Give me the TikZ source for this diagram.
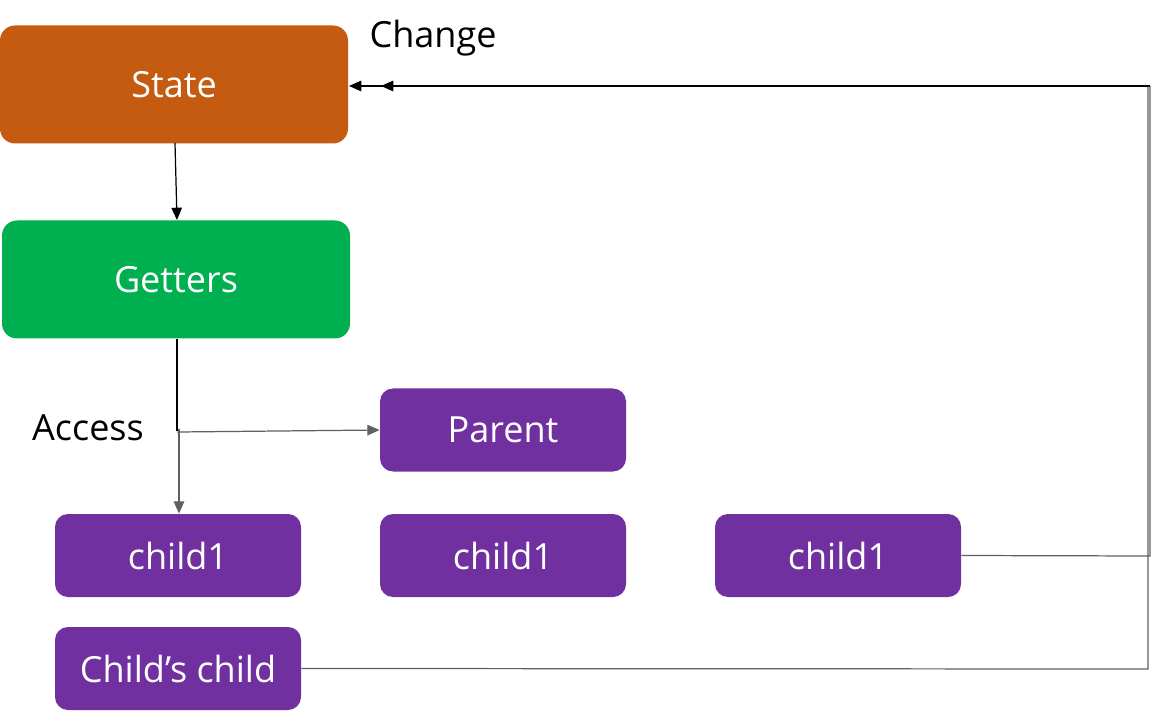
\documentclass[tikz,border=0pt]{standalone}
\usepackage{fontspec}
\setmainfont{Open Sans}
\usetikzlibrary{arrows.meta}
\definecolor{stateC}{HTML}{C55A11}
\definecolor{getC}{HTML}{00B050}
\definecolor{purC}{HTML}{7030A0}
\definecolor{lineC}{HTML}{606060}
\tikzset{
  box/.style={draw=none, rounded corners=0.26cm, text=white, inner sep=0pt,
    font=\fontsize{20.5}{22}\selectfont},
  bigbox/.style={box, minimum width={348*0.02cm}, minimum height={118*0.02cm}, rounded corners=0.3cm},
  pbox/.style={box, fill=purC, minimum width={246*0.02cm}, minimum height={83*0.02cm}},
  lbl/.style={font=\fontsize{20.5}{22}\selectfont, text=black, inner sep=0pt},
  conn/.style={draw=lineC, line width=0.7pt},
  tip/.style={-{Triangle[length=7pt,width=6pt]}},
}
\begin{document}
\begin{tikzpicture}[x=0.02cm,y=-0.02cm]
\useasboundingbox (0,0) rectangle (1151,715);
\node[bigbox, fill=stateC] (state) at (174,84.5) {State};
\node[bigbox, fill=getC] (getters) at (176,279.5) {Getters};
\node[pbox] (parent) at (503,430) {Parent};
\node[pbox] (c1) at (178,555.5) {child1};
\node[pbox] (c2) at (503,555.5) {child1};
\node[pbox] (c3) at (838,555.5) {child1};
\node[pbox] (cc) at (178,668.5) {Child’s child};
\node[lbl] (change) at (433,38) {Change};
\node[lbl] (access) at (88,428) {Access};
% state -> getters
\draw[black, line width=0.7pt, tip] (175,143) -- (177,220);
% getters -> parent / child1
\coordinate (j1) at (177,431);
\coordinate (j2) at (179,429);
\draw[black, line width=0.7pt] (177,339) -- (j1);
\draw[conn, tip] (j2) -- (178,432) -- (parent.west);
\draw[conn, tip] (j2) -- (c1.north -| j2);
% right loop
\coordinate (r1) at (1150,556);
\coordinate (r2) at (1148,669);
\draw[conn] (c3.east) -- (r1) -- (1150,86);
\draw[black, line width=0.7pt, tip] (1150,86) -- (349,86);
\draw[conn] (cc.east) -- (r2) -- (1148,86);
\draw[black, line width=0.7pt, tip] (1148,86) -- (381,86);
\end{tikzpicture}
\end{document}
